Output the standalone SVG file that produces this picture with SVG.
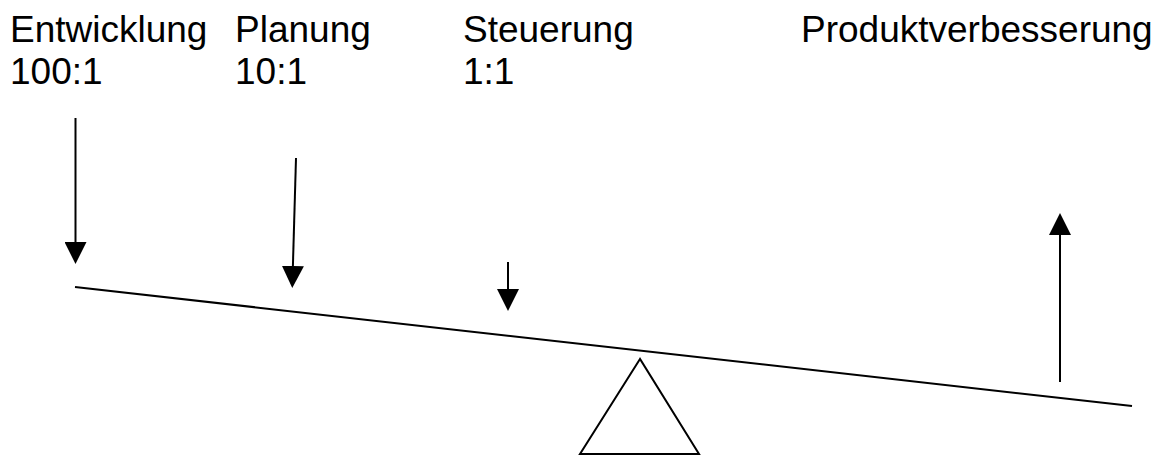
<svg xmlns="http://www.w3.org/2000/svg" width="1162" height="456" viewBox="0 0 1162 456">
<style>
text{font-family:"Liberation Sans",Arial,sans-serif;font-size:37px;fill:#000}
.ln{stroke:#000;stroke-width:2;fill:none}
</style>
<defs>
<marker id="ah" markerUnits="userSpaceOnUse" markerWidth="22" markerHeight="22" refX="0" refY="10" orient="auto" viewBox="0 0 20 20">
<path d="M0,0 L20,10 L0,20 Z" fill="#000"/>
</marker>
</defs>
<rect width="1162" height="456" fill="#fff"/>
<g id="label-entwicklung"><text x="10" y="42">Entwicklung</text><text x="10" y="84">100:1</text></g>
<g id="label-planung"><text x="235" y="42">Planung</text><text x="235" y="84">10:1</text></g>
<g id="label-steuerung"><text x="463" y="42">Steuerung</text><text x="463" y="84">1:1</text></g>
<g id="label-produkt"><text x="801" y="42">Produktverbesserung</text></g>
<g id="beam"><line class="ln" x1="75" y1="287" x2="1132" y2="406"/></g>
<g id="fulcrum"><polygon class="ln" points="640,359 580,454 699,454"/></g>
<g id="connectors">
<line class="ln" x1="75.5" y1="118" x2="75.5" y2="242" marker-end="url(#ah)"/>
<line class="ln" x1="296" y1="158" x2="292.9" y2="266" marker-end="url(#ah)"/>
<line class="ln" x1="508" y1="262" x2="508" y2="289" marker-end="url(#ah)"/>
<line class="ln" x1="1060" y1="382" x2="1060" y2="235" marker-end="url(#ah)"/>
</g>
</svg>
